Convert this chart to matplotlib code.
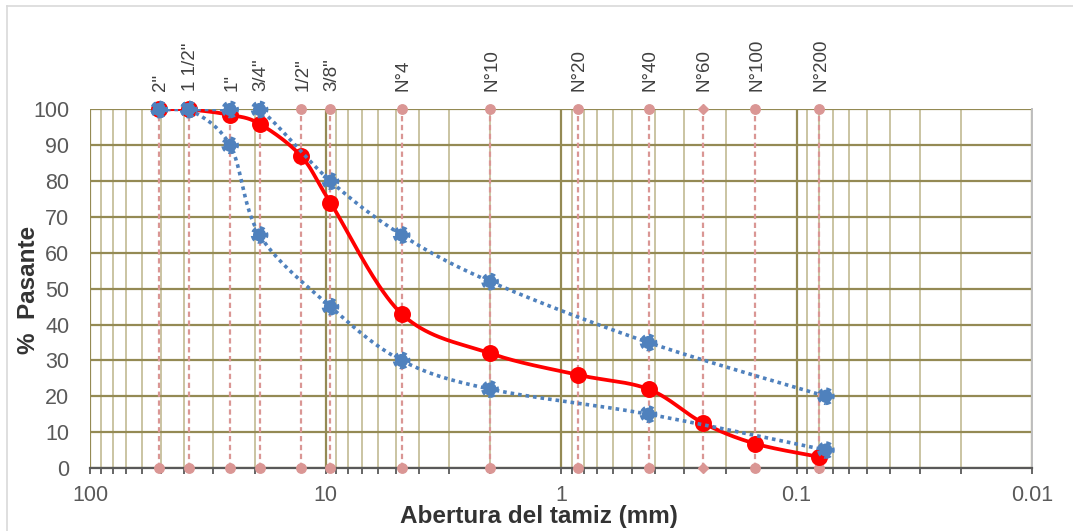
import numpy as np
import matplotlib
matplotlib.use("Agg")
import matplotlib.pyplot as plt
from matplotlib.lines import Line2D
from matplotlib.ticker import FixedLocator, NullFormatter

plt.rcParams["font.family"] = ["Liberation Sans", "DejaVu Sans"]

# sieve series (mm) and the sample's passing percentages
sieve_labels = ['2"', '1 1/2"', '1"', '3/4"', '1/2"', '3/8"',
                "N°4", "N°10", "N°20", "N°40", "N°60", "N°100", "N°200"]
sieve_mm = [50.8, 38.1, 25.4, 19.05, 12.7, 9.525, 4.75, 2.0, 0.85, 0.425, 0.25, 0.15, 0.08]
passing = [100, 100, 98.5, 96, 87, 74, 43, 32, 26, 22, 12.6, 6.8, 3.1]

# gradation band limits
spec_mm = [50.8, 38.1, 25.4, 19.05, 9.525, 4.75, 2.0, 0.425, 0.075]
spec_upper = [100, 100, 100, 100, 80, 65, 52, 35, 20]
spec_lower = [100, 100, 90, 65, 45, 30, 22, 15, 5]

x_ticks = [100, 10, 1, 0.1, 0.01]
x_ticklabels = ["100", "10", "1", "0.1", "0.01"]

RED = "#FF0000"
BLUE = "#4F81BD"
PINK = "#DA9694"
OLIVE = "#948A54"
TAN = "#C4BD97"
GREY = "#595959"


def smooth(xs, ys, n=40):
    """Bezier smoothing through the points (log-x space), like a spreadsheet 'smoothed line'."""
    pts = np.column_stack([np.log10(xs), np.asarray(ys, float)])
    P = np.vstack([pts[0], pts, pts[-1]])
    t = np.linspace(0, 1, n)[:, None]
    segs = []
    for i in range(1, len(P) - 2):
        p0, p1, p2, p3 = P[i - 1], P[i], P[i + 1], P[i + 2]
        c1 = p1 + (p2 - p0) / 6
        c2 = p2 - (p3 - p1) / 6
        segs.append((1 - t) ** 3 * p1 + 3 * (1 - t) ** 2 * t * c1
                    + 3 * (1 - t) * t ** 2 * c2 + t ** 3 * p2)
    c = np.vstack(segs)
    return 10 ** c[:, 0], c[:, 1]


W, H = 1073, 531
fig = plt.figure(figsize=(W / 100, H / 100), dpi=100)
ax = fig.add_axes([90 / W, (H - 468) / H, (1032 - 90) / W, (468 - 109.5) / H])

ax.set_xscale("log")
ax.set_xlim(100, 0.01)
ax.set_ylim(0, 100)
ax.set_axisbelow(True)

# grid
ax.xaxis.set_major_locator(FixedLocator(x_ticks))
ax.set_xticklabels(x_ticklabels)
minor = [m * d for d in (0.01, 0.1, 1, 10) for m in range(2, 10)]
ax.xaxis.set_minor_locator(FixedLocator(minor))
ax.xaxis.set_minor_formatter(NullFormatter())
ax.set_yticks(np.arange(0, 101, 10))
ax.grid(which="major", axis="both", color=OLIVE, lw=1.6)
ax.grid(which="minor", axis="x", color=TAN, lw=1.25)

for s in ("left", "top"):
    ax.spines[s].set_visible(False)
ax.spines["right"].set_color("#BFBFBF")
ax.spines["right"].set_linewidth(1.4)
ax.spines["bottom"].set_color(GREY)
ax.spines["bottom"].set_linewidth(1.6)

ax.tick_params(axis="x", which="both", direction="out", length=4, width=1.3,
               color=GREY, labelsize=15.5, labelcolor=GREY, pad=8)
ax.tick_params(axis="y", length=0, labelsize=15.5, labelcolor=GREY, pad=15)

# sieve reference lines with labels on top
for lab, d in zip(sieve_labels, sieve_mm):
    mk = "D" if lab == "N°60" else "o"
    ms = 5 if mk == "D" else 6.8
    ax.plot([d, d], [0, 100], color=PINK, lw=1.6, ls=(0, (2.4, 1.6)),
            marker=mk, ms=ms, mfc=PINK, mec=PINK, clip_on=False, zorder=3)
    ax.annotate(lab, (d, 100), xytext=(1.2, 13), textcoords="offset points",
                rotation=90, ha="center", va="bottom", fontsize=13.5,
                color="#404040")

# sample curve
sx, sy = smooth(sieve_mm, passing)
ax.plot(sx, sy, color=RED, lw=2.7, zorder=4)
ax.plot(sieve_mm, passing, ls="none", marker="o", ms=11, mfc=RED, mec=RED,
        mew=1.2, clip_on=False, zorder=4.5)

# band limits
for band in (spec_upper, spec_lower):
    bx, by = smooth(spec_mm, band)
    ax.plot(bx, by, color=BLUE, lw=2.6, ls=(0, (1, 1.1)), zorder=5)
    ax.scatter(spec_mm, band, s=90, marker="o", c=BLUE, edgecolors=BLUE,
               linewidths=3.2, linestyles=(0, (1, 0.8)), clip_on=False, zorder=6)

fig.text(539 / W, 1 - 517 / H, "Abertura del tamiz (mm)", ha="center", va="center",
         fontsize=17.5, fontweight="bold", color="#333333")
fig.text(28.5 / W, 1 - 290 / H, "%  Pasante", ha="center", va="center", rotation=90,
         fontsize=17.5, fontweight="bold", color="#333333")

# outer chart frame (top and left edges)
fig.add_artist(Line2D([7 / W, 1], [1 - 6 / H, 1 - 6 / H], color="#D9D9D9", lw=1.2))
fig.add_artist(Line2D([7 / W, 7 / W], [0, 1 - 6 / H], color="#D9D9D9", lw=1.2))

fig.savefig("out.png", dpi=100)
